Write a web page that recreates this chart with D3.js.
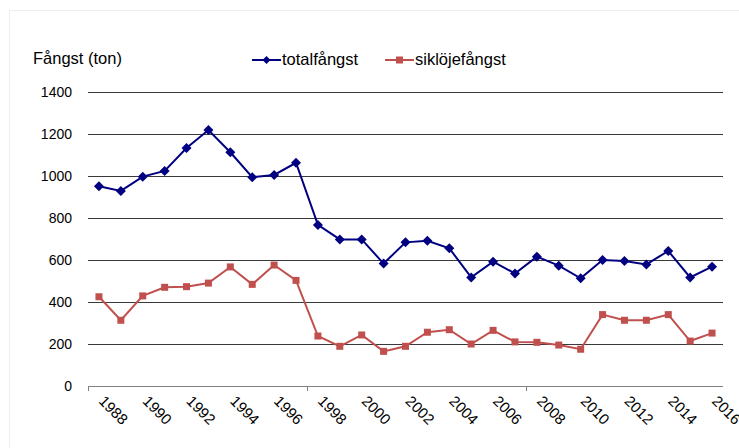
<!DOCTYPE html>
<html>
<head>
<meta charset="utf-8">
<script src="https://cdn.jsdelivr.net/npm/d3@7"></script>
<style>
  body { margin: 0; background: #fff; }
  svg { font-family: "Liberation Sans", Arial, sans-serif; }
</style>
</head>
<body>
<div class="visHolder"></div>
<script>
var years = d3.range(1988, 2017)
var totalfangst = [951, 929, 997, 1024, 1133, 1219, 1113, 994, 1005, 1063,
    767, 698, 698, 583, 684, 692, 656, 517, 592, 536,
    616, 573, 513, 600, 595, 579, 643, 517, 568]
var siklojefangst = [425, 313, 429, 470, 473, 490, 567, 484, 576, 503,
    238, 189, 243, 165, 189, 256, 268, 200, 265, 210,
    208, 195, 175, 340, 313, 313, 340, 214, 252]
var yTicks = [0, 200, 400, 600, 800, 1000, 1200, 1400]
var xLabels = years.filter((y) => y % 2 == 0)

var width = 739
var height = 448
var plotLeft = 88, plotRight = 723, plotTop = 92, plotBottom = 386

var svg = d3.select('.visHolder')
    .append('svg')
    .attr('width', width)
    .attr('height', height)

// faint outer frame
svg.append('rect')
    .attr('x', 9.5).attr('y', 10.5)
    .attr('width', 740).attr('height', 460)
    .attr('fill', 'none')
    .attr('stroke', '#eeeeee')

var xScale = d3.scaleBand()
    .domain(years)
    .range([plotLeft, plotRight])

var yScale = d3.scaleLinear()
    .domain([0, 1400])
    .range([plotBottom, plotTop])

// gridlines
svg.append('g')
    .selectAll('line')
    .data(yTicks.filter((d) => d > 0))
    .enter()
    .append('line')
    .attr('x1', plotLeft)
    .attr('x2', plotRight)
    .attr('y1', (d) => Math.round(yScale(d)) + 0.5)
    .attr('y2', (d) => Math.round(yScale(d)) + 0.5)
    .attr('stroke', '#3a3a3a')
    .attr('stroke-width', 1)

// y labels
svg.append('g')
    .selectAll('text')
    .data(yTicks)
    .enter()
    .append('text')
    .attr('x', 72)
    .attr('y', (d) => yScale(d) + 5)
    .attr('text-anchor', 'end')
    .style('font-size', '14px')
    .attr('fill', '#000')
    .text((d) => d)

// x axis line + ticks every 10 categories
svg.append('line')
    .attr('x1', plotLeft).attr('x2', plotRight)
    .attr('y1', plotBottom + 0.5).attr('y2', plotBottom + 0.5)
    .attr('stroke', '#808080')

svg.append('g')
    .selectAll('line')
    .data([0, 10, 20])
    .enter()
    .append('line')
    .attr('x1', (d) => Math.round(plotLeft + d * xScale.step()) + 0.5)
    .attr('x2', (d) => Math.round(plotLeft + d * xScale.step()) + 0.5)
    .attr('y1', plotBottom)
    .attr('y2', plotBottom + 5)
    .attr('stroke', '#808080')

// x labels rotated
svg.append('g')
    .selectAll('text')
    .data(xLabels)
    .enter()
    .append('text')
    .attr('transform', (d) => `translate(${xScale(d) + xScale.bandwidth() / 2 - 1}, ${plotBottom + 16}) rotate(45)`)
    .style('font-size', '15px')
    .attr('fill', '#000')
    .text((d) => d)

var cx = (d, i) => xScale(years[i]) + xScale.bandwidth() / 2

var line = d3.line()
    .x((d, i) => cx(d, i))
    .y((d) => yScale(d))

var blue = '#000080'
var red = '#C0504D'

// siklöje series
svg.append('path')
    .datum(siklojefangst)
    .attr('d', line)
    .attr('fill', 'none')
    .attr('stroke', red)
    .attr('stroke-width', 2)

svg.append('g')
    .selectAll('rect')
    .data(siklojefangst)
    .enter()
    .append('rect')
    .attr('x', (d, i) => cx(d, i) - 3.5)
    .attr('y', (d) => yScale(d) - 3.5)
    .attr('width', 7)
    .attr('height', 7)
    .attr('fill', red)

// total series
svg.append('path')
    .datum(totalfangst)
    .attr('d', line)
    .attr('fill', 'none')
    .attr('stroke', blue)
    .attr('stroke-width', 2)

// square diamond marker
var diamond = 'M0,-5L5,0L0,5L-5,0Z'
svg.append('g')
    .selectAll('path')
    .data(totalfangst)
    .enter()
    .append('path')
    .attr('d', diamond)
    .attr('transform', (d, i) => `translate(${cx(d, i)}, ${yScale(d)})`)
    .attr('fill', blue)

// title
svg.append('text')
    .attr('x', 33)
    .attr('y', 64)
    .style('font-size', '16.5px')
    .text('Fångst (ton)')

// legend
var legend = [
    { name: 'totalfångst', color: blue, x: 252, shape: 'diamond' },
    { name: 'siklöjefångst', color: red, x: 385, shape: 'square' }
]
legend.forEach(function(l) {
    var g = svg.append('g')
    g.append('line')
        .attr('x1', l.x).attr('x2', l.x + 29)
        .attr('y1', 60).attr('y2', 60)
        .attr('stroke', l.color)
        .attr('stroke-width', 2)
    if (l.shape == 'diamond') {
        g.append('path')
            .attr('d', 'M0,-4L4,0L0,4L-4,0Z')
            .attr('transform', `translate(${l.x + 14.5}, 60)`)
            .attr('fill', l.color)
    } else {
        g.append('rect')
            .attr('x', l.x + 11).attr('y', 56.5)
            .attr('width', 7).attr('height', 7)
            .attr('fill', l.color)
    }
    g.append('text')
        .attr('x', l.x + 30)
        .attr('y', 65)
        .style('font-size', '16.5px')
        .text(l.name)
})
</script>
</body>
</html>
